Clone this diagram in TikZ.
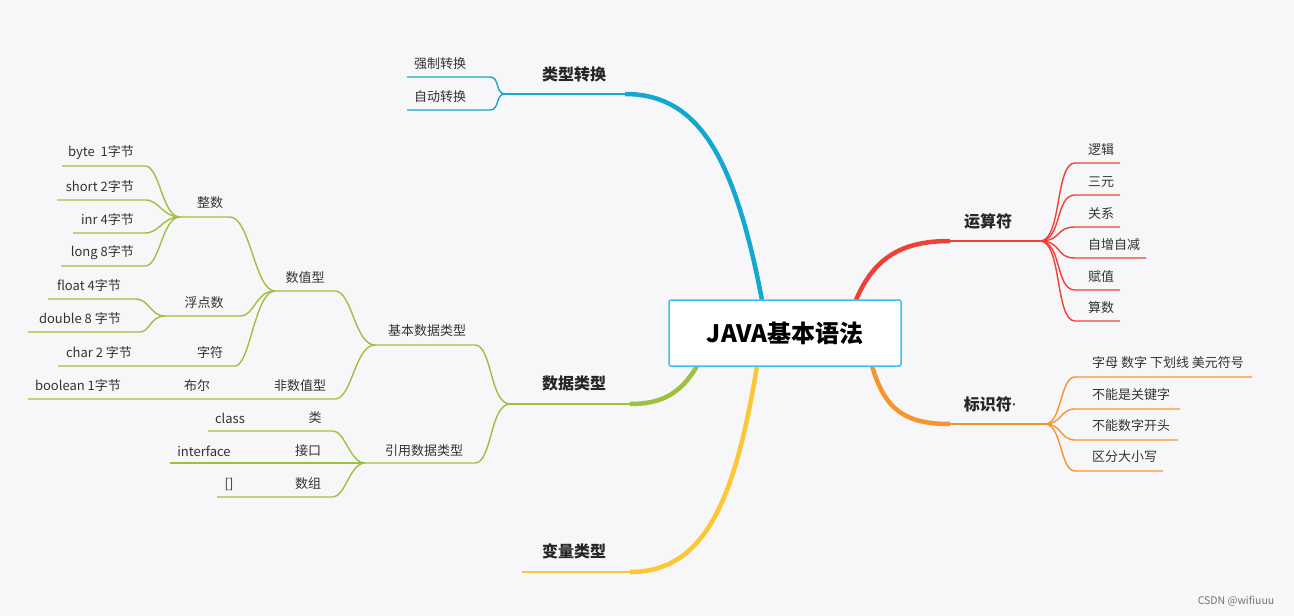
\documentclass[tikz,border=0pt]{standalone}
\usepackage{fontspec}
\newfontfamily\cjk{Noto Sans CJK SC}
\newfontfamily\lat{Noto Sans}
\begin{document}
\begin{tikzpicture}[x=1pt,y=-1pt,
  lbl/.style={font=\cjk\fontsize{13}{15}\selectfont, text=black!80, inner sep=0pt},
  blbl/.style={font=\cjk\bfseries\fontsize{16}{19}\selectfont, text=black!85, inner sep=0pt},
  thin/.style={line width=1.4pt},
  mid/.style={line width=2pt},
  thick/.style={line width=4.5pt}]
\definecolor{bg}{HTML}{F7F7F9}
\definecolor{cb}{HTML}{12A8CF}
\definecolor{cr}{HTML}{EE4136}
\definecolor{co}{HTML}{F7942F}
\definecolor{cg}{HTML}{9DC13F}
\definecolor{cy}{HTML}{FBC734}
\definecolor{cbox}{HTML}{3DBEF5}
\fill[bg] (0,0) rectangle (1294,616);
\useasboundingbox (0,0) rectangle (1294,616);

% ---------- blue ----------
\coordinate (b0) at (762,300); \coordinate (b1) at (625,94); \coordinate (bp) at (505,94);
\draw[cb,thick] (b0) .. controls (735,160) and (700,94) .. (b1);
\draw[cb,mid] (b1) -- (bp);
\node[blbl] (tlzh) at (574,74) {类型转换};
\coordinate (bq1) at (490,77); \coordinate (bq1e) at (407,77);
\coordinate (bq2) at (490,110); \coordinate (bq2e) at (407,110);
\draw[cb,thin] (bp) .. controls (495,94) and (500,77) .. (bq1) -- (bq1e);
\draw[cb,thin] (bp) .. controls (495,94) and (500,110) .. (bq2) -- (bq2e);
\node[lbl] (qz) at (440,64) {强制转换};
\node[lbl] (zd) at (440,97) {自动转换};

% ---------- red ----------
\coordinate (r0) at (856,300); \coordinate (r1) at (950,241); \coordinate (rp) at (1040,241);
\draw[cr,thick] (r0) .. controls (875,255) and (905,241) .. (r1);
\draw[cr,mid] (r1) -- (rp);
\node[blbl] (ysf) at (988,221) {运算符};
\foreach \y/\t/\e [count=\i] in {163/逻辑/1120,195/三元/1120,227/关系/1120,258/自增自减/1146,290/赋值/1120,321/算数/1120}{
  \coordinate (rc\i) at (1075,\y);
  \coordinate (re\i) at (\e,\y);
  \draw[cr,thin] (rp) .. controls (1062,241) and (1055,\y) .. (rc\i) -- (re\i);
  \node[lbl,anchor=west] (rl\i) at (1088,\y-13) {\t};
}

% ---------- orange ----------
\coordinate (o0) at (872,366); \coordinate (o1) at (950,424); \coordinate (op) at (1045,424);
\draw[co,thick] (o0) .. controls (885,410) and (905,424) .. (o1);
\draw[co,mid] (o1) -- (op);
\node[blbl] (bsf) at (990,404) {标识符{\lat\mdseries·}};
\foreach \y/\t/\e [count=\i] in {377/字母 数字 下划线 美元符号/1252,409/不能是关键字/1180,440/不能数字开头/1178,471/区分大小写/1163}{
  \coordinate (oc\i) at (1075,\y);
  \coordinate (oe\i) at (\e,\y);
  \draw[co,thin] (op) .. controls (1062,424) and (1060,\y) .. (oc\i) -- (oe\i);
  \node[lbl,anchor=west] (ol\i) at (1092,\y-14) {\t};
}

% ---------- yellow ----------
\coordinate (y0) at (757,366); \coordinate (y1) at (630,572); \coordinate (ye) at (522,572);
\draw[cy,thick] (y0) .. controls (735,500) and (705,572) .. (y1);
\draw[cy,mid] (y1) -- (ye);
\node[blbl] (blx) at (574,551) {变量类型};

% ---------- green ----------
\coordinate (g0) at (697,366); \coordinate (g1) at (630,404); \coordinate (gp) at (510,404);
\draw[cg,thick] (g0) .. controls (680,395) and (660,404) .. (g1);
\draw[cg,mid] (g1) -- (gp);
\node[blbl] (sjlx) at (574,383) {数据类型};
% 基本 / 引用
\coordinate (ja) at (475,345); \coordinate (jp) at (375,345);
\coordinate (ya) at (475,463); \coordinate (yp) at (365,463);
\draw[cg,thin] (gp) .. controls (490,404) and (492,345) .. (ja) -- (jp);
\draw[cg,thin] (gp) .. controls (490,404) and (492,463) .. (ya) -- (yp);
\node[lbl] (jbsj) at (427,331) {基本数据类型};
\node[lbl] (yysj) at (424,451) {引用数据类型};
% 数值型 / 非数值型
\coordinate (sa) at (335,291); \coordinate (sp) at (275,291);
\coordinate (fa) at (335,399); \coordinate (fe) at (28,399);
\draw[cg,thin] (jp) .. controls (355,345) and (352,291) .. (sa) -- (sp);
\draw[cg,thin] (jp) .. controls (355,345) and (352,399) .. (fa) -- (fe);
\node[lbl] (szx) at (305,278) {数值型};
\node[lbl] (fsz) at (300,386) {非数值型};
\node[lbl] (be) at (197,386) {布尔};
\node[lbl] (bool) at (78,386) {boolean 1字节};
% 整数 浮点数 字符
\coordinate (za) at (230,217); \coordinate (zp) at (180,217);
\coordinate (fda) at (240,316); \coordinate (fdp) at (165,316);
\coordinate (zfa) at (235,366); \coordinate (zfe) at (58,366);
\draw[cg,thin] (sp) .. controls (255,291) and (250,217) .. (za) -- (zp);
\draw[cg,thin] (sp) .. controls (255,291) and (255,316) .. (fda) -- (fdp);
\draw[cg,thin] (sp) .. controls (255,291) and (250,366) .. (zfa) -- (zfe);
\node[lbl] (zs) at (210,203) {整数};
\node[lbl] (fds) at (204,303) {浮点数};
\node[lbl] (zf) at (210,353) {字符};
\node[lbl] (ch) at (99,353) {char 2 字节};
\foreach \y/\s/\t [count=\i] in {166/62/byte\ \ 1字节,200/57/short 2字节,233/73/inr 4字节,266/61/long 8字节}{
  \coordinate (zc\i) at (145,\y); \coordinate (ze\i) at (\s,\y);
  \draw[cg,thin] (zp) .. controls (162,217) and (160,\y) .. (zc\i) -- (ze\i);
  \node[lbl,anchor=east] (zl\i) at (134,\y-13) {\t};
}
\foreach \y/\s/\e/\t [count=\i] in {299/48/135/float 4字节,332/28/140/double 8 字节}{
  \coordinate (fc\i) at (\e,\y); \coordinate (fe\i) at (\s,\y);
  \draw[cg,thin] (fdp) .. controls (150,316) and (150,\y) .. (fc\i) -- (fe\i);
  \node[lbl,anchor=east] (fl\i) at (121,\y-13) {\t};
}
% 类 接口 数组
\foreach \y/\s [count=\i] in {431/208,463/170,497/217}{
  \coordinate (yc\i) at (333,\y); \coordinate (ye\i) at (\s,\y);
  \draw[cg,thin] (yp) .. controls (350,463) and (345,\y) .. (yc\i) -- (ye\i);
}
\node[lbl] (cls) at (230,418) {class};
\node[lbl] (lei) at (315,418) {类};
\node[lbl] (itf) at (204,451) {interface};
\node[lbl] (jk) at (308,451) {接口};
\node[lbl] (arr) at (229,484) {[]};
\node[lbl] (sz) at (308,484) {数组};

% ---------- center ----------
\node[draw=cbox, line width=1.5pt, fill=white, rounded corners=2pt,
  minimum width=232pt, minimum height=66pt,
  font=\cjk\bfseries\fontsize{24}{28}\selectfont] (root) at (785,333) {JAVA基本语法};

\node[font=\cjk\fontsize{10.5}{12}\selectfont, text=black!55] (csdn) at (1236,601) {CSDN @wifiuuu};
\end{tikzpicture}
\end{document}
